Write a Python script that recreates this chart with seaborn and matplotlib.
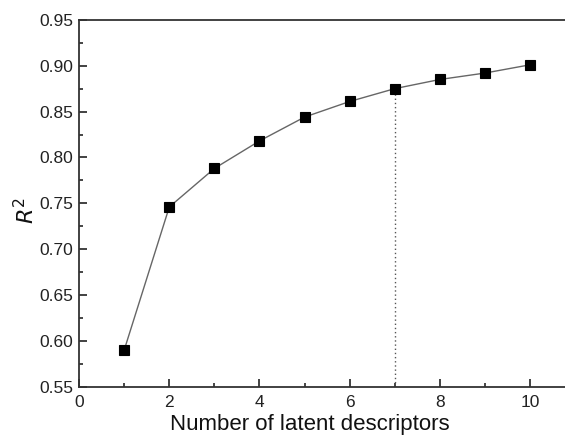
import matplotlib
matplotlib.use("Agg")
import matplotlib.pyplot as plt
import pandas as pd
import seaborn as sns
from matplotlib.ticker import MultipleLocator, FormatStrFormatter

n_descriptors = [1, 2, 3, 4, 5, 6, 7, 8, 9, 10]
r2_values = [0.590, 0.746, 0.788, 0.818, 0.844, 0.861, 0.875, 0.885, 0.892, 0.901]
chosen_n = 7

sns.set_theme(style="ticks")
plt.rcParams["font.family"] = ["Liberation Sans", "DejaVu Sans"]

df = pd.DataFrame({"n": n_descriptors, "r2": r2_values})

fig = plt.figure(figsize=(5.65, 4.41), dpi=100)
ax = fig.add_axes([0.140, 0.123, 0.878, 0.832])

sns.lineplot(data=df, x="n", y="r2", ax=ax, color="#666666", linewidth=1.0,
             marker="s", markersize=6.5, markerfacecolor="black",
             markeredgecolor="black", markeredgewidth=0.8)

# dotted marker for the selected number of descriptors
chosen_r2 = r2_values[n_descriptors.index(chosen_n)]
ax.plot([chosen_n, chosen_n], [0.55, chosen_r2], color="#555555",
        linestyle=(0, (1, 2)), linewidth=1.0, zorder=1)

ax.set_xlim(0, 11)
ax.set_ylim(0.55, 0.95)
ax.xaxis.set_major_locator(MultipleLocator(2))
ax.xaxis.set_minor_locator(MultipleLocator(1))
ax.yaxis.set_major_locator(MultipleLocator(0.05))
ax.yaxis.set_minor_locator(MultipleLocator(0.025))
ax.yaxis.set_major_formatter(FormatStrFormatter("%.2f"))

ax.tick_params(which="major", direction="in", length=6, width=1.2, labelsize=12.5,
               colors="#222222")
ax.tick_params(axis="x", which="major", pad=6)
ax.tick_params(axis="y", which="major", pad=4)
ax.tick_params(which="minor", direction="in", length=3, width=1.2)
ax.tick_params(top=False, right=False)

for side in ["left", "bottom", "top"]:
    ax.spines[side].set_linewidth(1.3)
    ax.spines[side].set_color("#333333")
ax.spines["right"].set_visible(False)

ax.set_xlabel("Number of latent descriptors", fontsize=16, color="#111111")
ax.xaxis.set_label_coords(0.465, -0.075)
ax.set_ylabel("$R^2$", fontsize=16, color="#111111")
ax.yaxis.set_label_coords(-0.08, 0.48)

fig.savefig("out.png", dpi=100)
